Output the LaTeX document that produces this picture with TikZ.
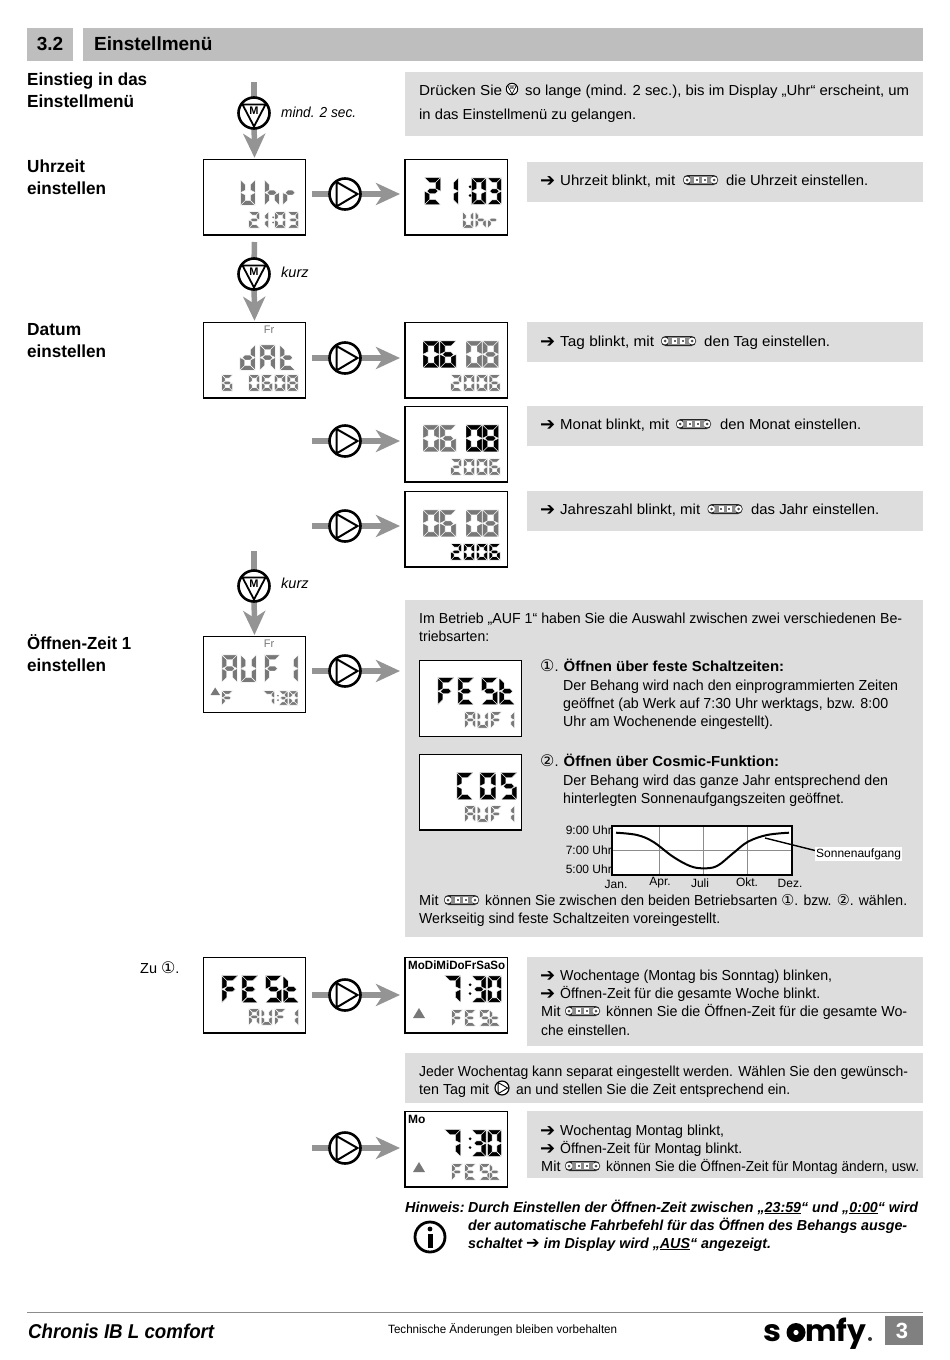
\documentclass[tikz,border=0pt]{standalone}
\usepackage{fontspec}
\setmainfont{Liberation Sans}
\newfontfamily\dv{DejaVu Sans}
\newfontfamily\pop{Poppins}
\usetikzlibrary{arrows.meta,calc}
\definecolor{panel}{gray}{.865}
\definecolor{head}{gray}{.745}
\definecolor{lcdg}{gray}{.47}
\definecolor{flow}{gray}{.58}
\newcount\tc
\newcommand\fs[1]{\fontsize{#1}{#1}\selectfont}
% text squeezed horizontally to a given width
\newcommand\fitw[2]{\setbox0\hbox{#2}\pgfmathsetmacro\sfk{#1/\the\wd0}\scalebox{\sfk}[1]{\box0}}
% style, right end (or empty), x, baseline y, text
\newcommand\TF[5]{\global\advance\tc by 1
  \ifx\relax#2\relax\node[#1] (t\the\tc) at (#3,#4) {#5};\else
  \pgfmathsetmacro\tww{#2-#3}\node[#1] (t\the\tc) at (#3,#4) {\fitw{\tww}{#5}};\fi}
\newcommand\T[4][]{\TF{txt}{#1}{#2}{#3}{#4}}
\newcommand\ar{{\dv\fontsize{18}{18}\selectfont\char"2794}}
\newcommand\cn[2][15]{{\dv\fontsize{#1}{#1}\selectfont\char\numexpr"2460+#2-1\relax}}
% seven-segment glyphs
\def\sA{\filldraw (-\Tt,-\Tt)--({\W+\Tt},-\Tt)--({\W-\Tt},\Tt)--(\Tt,\Tt)--cycle;}
\def\sD{\filldraw (-\Tt,{\H+\Tt})--({\W+\Tt},{\H+\Tt})--({\W-\Tt},{\H-\Tt})--(\Tt,{\H-\Tt})--cycle;}
\def\sF{\filldraw (-\Tt,-\Tt)--(\Tt,\Tt)--(\Tt,{\M-\Tt})--(-\Tt,\M)--cycle;}
\def\sE{\filldraw (-\Tt,{\H+\Tt})--(\Tt,{\H-\Tt})--(\Tt,{\M+\Tt})--(-\Tt,\M)--cycle;}
\def\sB{\filldraw ({\W+\Tt},-\Tt)--({\W-\Tt},\Tt)--({\W-\Tt},{\M-\Tt})--({\W+\Tt},\M)--cycle;}
\def\sC{\filldraw ({\W+\Tt},{\H+\Tt})--({\W-\Tt},{\H-\Tt})--({\W-\Tt},{\M+\Tt})--({\W+\Tt},\M)--cycle;}
\def\sG{\filldraw (0,\M)--(\Tt,{\M-\Tt})--({\W-\Tt},{\M-\Tt})--(\W,\M)--({\W-\Tt},{\M+\Tt})--(\Tt,{\M+\Tt})--cycle;}
\expandafter\def\csname lcd@0\endcsname{\sA\sB\sC\sD\sE\sF}
\expandafter\def\csname lcd@1\endcsname{\sB\sC}
\expandafter\def\csname lcd@2\endcsname{\sA\sB\sG\sE\sD}
\expandafter\def\csname lcd@3\endcsname{\sA\sB\sG\sC\sD}
\expandafter\def\csname lcd@6\endcsname{\sA\sF\sG\sE\sC\sD}
\expandafter\def\csname lcd@7\endcsname{\sA\sB\sC}
\expandafter\def\csname lcd@8\endcsname{\sA\sB\sC\sD\sE\sF\sG}
\expandafter\def\csname lcd@S\endcsname{\sA\sF\sG\sC\sD}
\expandafter\def\csname lcd@O\endcsname{\sA\sB\sC\sD\sE\sF}
\expandafter\def\csname lcd@A\endcsname{\sA\sB\sC\sE\sF\sG}
\expandafter\def\csname lcd@C\endcsname{\sA\sF\sE\sD}
\expandafter\def\csname lcd@E\endcsname{\sA\sF\sG\sE\sD}
\expandafter\def\csname lcd@F\endcsname{\sA\sF\sG\sE}
\expandafter\def\csname lcd@U\endcsname{\sF\sE\sD\sC\sB}
\expandafter\def\csname lcd@d\endcsname{\sB\sC\sD\sE\sG}
\expandafter\def\csname lcd@h\endcsname{\sF\sE\sG\sC}
\expandafter\def\csname lcd@r\endcsname{\sE\sG}
\expandafter\def\csname lcd@t\endcsname{\sF\sE\sG\sD}
\expandafter\def\csname lcd@:\endcsname{\fill[draw=none] ({-\W*.42},{\H*.3}) circle[radius={\Tt*.62}]; \fill[draw=none] ({-\W*.42},{\H*.7}) circle[radius={\Tt*.62}];}
\def\lcdwalk#1{\ifx#1\relax\else\lcdput{#1}\expandafter\lcdwalk\fi}
\def\lcdput#1{%
  \begin{scope}[shift={(\lx,\ly)},draw=white,line width=.4pt,fill=\lc,line join=miter]
  \csname lcd@#1\endcsname
  \end{scope}%
  \if:#1\else\pgfmathsetmacro\lx{\lx+\lp}\fi}
% x, ytop, w, h, pitch, half stroke, colour, string
\newcommand\lcd[8]{\begingroup\def\lx{#1}\def\ly{#2}\def\W{#3}\def\H{#4}\def\lp{#5}\def\Tt{#6}\def\lc{#7}\pgfmathsetmacro\M{#4/2}\lcdwalk#8\relax\endgroup}
\newcommand\LB[5]{\lcd{#1}{#2}{11}{22}{#5}{2.5}{#3}{#4}}% big: x,y,col,str,pitch
\newcommand\LN[5]{\lcd{#1}{#2}{9.5}{22}{#5}{2.4}{#3}{#4}}% big narrow
\newcommand\LS[5]{\lcd{#1}{#2}{7.6}{13}{#5}{1.65}{#3}{#4}}% small
\newcommand\rocker[2]{\begin{scope}[shift={(#1,#2)}]
  \fill[black!85,rounded corners=4.5] (-17.5,-5) rectangle (17.5,5);
  \fill[black!45] (-11,-3.6) rectangle (11,3.6);
  \fill[white] (-13.5,0) circle[radius=3.4]; \fill[white] (13.5,0) circle[radius=3.4];
  \fill[black!70] (-13.5,0) circle[radius=1.5]; \fill[black!70] (13.5,0) circle[radius=1.5];
  \fill[white] (-6.5,-2.8) rectangle (-1.5,2.8); \fill[white] (1.5,-2.8) rectangle (6.5,2.8);
  \fill[black!60] (-5,-1.2) rectangle (-3,1.2); \fill[black!60] (3,-1.2) rectangle (5,1.2);
\end{scope}}
\newcommand\mbtn[4]{\begin{scope}[shift={(#2,#3)},scale=#4,transform shape]
  \node[btn,line width=#4*2.6pt,minimum size=31pt] (#1) at (0,0) {};
  \draw[line width=#4*1.8pt,line join=round] (-11.5,-8.5)--(11.5,-8.5)--(0,13.5)--cycle;
  \node[inner sep=0,font=\bfseries\fontsize{11}{11}\selectfont] (#1M) at (0,-2) {M};
\end{scope}}
\newcommand\pbtn[4]{\begin{scope}[shift={(#2,#3)},scale=#4,transform shape]
  \node[btn,line width=#4*2.6pt,minimum size=31pt] (#1) at (0,0) {};
  \draw[line width=#4*2pt,line join=miter] (-8.5,-12)--(-8.5,12.5)--(12.5,0)--cycle;
\end{scope}}
\tikzset{
  x=1pt,y=-1pt,
  txt/.style={anchor=base west,inner sep=0pt,font=\fs{14.5}},
  ital/.style={anchor=base west,inner sep=0pt,font=\itshape\fs{14.5}},
  bold/.style={anchor=base west,inner sep=0pt,font=\bfseries\fs{14.5}},
  lab/.style={anchor=base west,inner sep=0pt,font=\bfseries\fs{17.5}},
  hw/.style={anchor=base west,inner sep=0pt,font=\bfseries\itshape\fs{14.5}},
  disp/.style={draw=black,line width=1.2pt,fill=white,minimum width=102.4pt,minimum height=75.7pt,inner sep=0pt,outer sep=0pt,anchor=north west},
  btn/.style={circle,draw=black,fill=white,inner sep=0pt},
  fline/.style={draw=flow,line width=5.5pt},
  farrow/.style={draw=flow,line width=5.5pt,-{Stealth[length=24pt,width=22pt,inset=7pt]}},
}
\begin{document}
\begin{tikzpicture}
\useasboundingbox (0,0) rectangle (950,1360);
\fill[white] (0,0) rectangle (950,1360);
% header
\fill[head] (27,28) rectangle (73,61);
\fill[head] (83,28) rectangle (923,61);
\node[anchor=base,inner sep=0,font=\bfseries\fs{19}] (sec) at (50,50) {3.2};
\node[anchor=base west,inner sep=0,font=\bfseries\fs{19}] (title) at (94,50) {Einstellmenü};
% panels
\foreach \a/\b/\c/\d in {405/72/923/136,527/162/923/202,527/322/923/362,527/406/923/446,527/491/923/531,405/600/923/937,527/957/923/1046,405/1053/923/1103,527/1111/923/1178}
  \fill[panel] (\a,\b) rectangle (\c,\d);
% left labels
\TF{lab}{147}{27}{85}{Einstieg in das}
\TF{lab}{134}{27}{107}{Einstellmenü}
\TF{lab}{85}{27}{172}{Uhrzeit}
\TF{lab}{106}{27}{194}{einstellen}
\TF{lab}{81}{27}{335}{Datum}
\TF{lab}{106}{27}{357}{einstellen}
\TF{lab}{131}{27}{649}{Öffnen-Zeit 1}
\TF{lab}{106}{27}{671}{einstellen}
% displays
\node[disp] (dUhr) at (203.3,159.3) {};
\node[disp] (dUhrR) at (405,159.3) {};
\node[disp] (dDat) at (203.3,322.3) {};
\node[disp] (dT) at (405,322.3) {};
\node[disp] (dM) at (405,406.3) {};
\node[disp] (dJ) at (405,491.3) {};
\node[disp] (dAuf) at (203.3,636.5) {};
\node[disp] (dFest) at (419.3,660.5) {};
\node[disp] (dCos) at (419.3,754.3) {};
\node[disp] (dF2) at (203.3,957.3) {};
\node[disp] (dW) at (405,957.3) {};
\node[disp] (dMo) at (405,1111.3) {};
% flow free ends
\coordinate (top) at (254,82);
\coordinate (c3) at (254,551);
\coordinate (hM) at (312,441);
\coordinate (hJ) at (312,526);
\coordinate (hMo) at (312,1148);
% flow lines
\draw[fline] (top) -- (254,113);
\draw[fline,shorten <=7pt] (dUhr.south) -- (254,274);
\draw[fline] (c3) -- (254,586);
\draw[farrow] (254,113) -- ($(dUhr.north)+(0,-1.5)$);
\draw[farrow] (254,274) -- ($(dDat.north)+(0,-1.5)$);
\draw[farrow] (254,586) -- ($(dAuf.north)+(0,-1.5)$);
\foreach \s/\e/\y in {dUhr/dUhrR/194,dDat/dT/358,dAuf/dFest/671,dF2/dW/995}{
  \draw[fline] ($(\s.east |- 0,\y)+(6.5,0)$) -- (345,\y);
}
\draw[fline] (hM) -- (345,441); \draw[fline] (hJ) -- (345,526); \draw[fline] (hMo) -- (345,1148);
\foreach \y in {194,358,441,526,671,995,1148}
  \draw[farrow] (345,\y) -- (400,\y);
\mbtn{m1}{254}{113}{1}
\mbtn{m2}{254}{274}{1}
\mbtn{m3}{254}{586}{1}
\pbtn{p1}{345}{194}{1}
\pbtn{p2}{345}{358}{1}
\pbtn{p3}{345}{441}{1}
\pbtn{p4}{345}{526}{1}
\pbtn{p5}{345}{671}{1}
\pbtn{p6}{345}{995}{1}
\pbtn{p7}{345}{1148}{1}
\TF{ital}{356}{281}{117}{mind. 2 sec.}
\TF{ital}{}{281}{277}{kurz}
\TF{ital}{}{281}{588}{kurz}
% LCD contents
\lcd{243}{182.3}{9.8}{20.5}{21}{2.4}{lcdg}{U}\lcd{267}{182.3}{9.8}{20.5}{21}{2.4}{lcdg}{h}\lcd{285.2}{182.3}{9.8}{20.5}{21}{2.4}{lcdg}{r}
\LS{250.4}{213.4}{lcdg}{2}{13}\LS{259}{213.4}{lcdg}{1}{13}\LS{276.4}{213.4}{lcdg}{:03}{13}
\LB{427}{180.2}{black}{2}{16}\LN{446.4}{180.2}{black}{1}{16}\LN{474.1}{180.2}{black}{:03}{15.6}
\LS{464.4}{213.4}{lcdg}{Uhr}{12.5}
\node[inner sep=0,text=lcdg,font=\fs{11}] (f1) at (269,329.5) {Fr};
\lcd{242.3}{347.3}{10.5}{20.5}{20}{2.4}{lcdg}{dAt}
\LS{223.4}{376.4}{lcdg}{6}{13}\LS{250.4}{376.4}{lcdg}{0608}{12.8}
\LB{425.5}{343.3}{black}{06}{17}\LB{468.5}{343.3}{lcdg}{08}{16.5}
\LS{452.4}{376.4}{lcdg}{2006}{12.8}
\LB{425.5}{427.3}{lcdg}{06}{17}\LB{468.5}{427.3}{black}{08}{16.5}
\LS{452.4}{460.4}{lcdg}{2006}{12.8}
\LB{425.5}{512.3}{lcdg}{06}{17}\LB{468.5}{512.3}{lcdg}{08}{16.5}
\LS{452.4}{545.4}{black}{2006}{12.8}
\node[inner sep=0,text=lcdg,font=\fs{11}] (f2) at (269,644) {Fr};
\lcd{224.3}{657.3}{10.5}{22.5}{19}{2.4}{lcdg}{AU}\lcd{267}{657.3}{10.5}{22.5}{19}{2.4}{lcdg}{F}\lcd{285.2}{657.3}{10.5}{22.5}{19}{2.4}{lcdg}{1}
\fill[lcdg] (210.5,695)--(220,695)--(215.2,687.5)--cycle;
\lcd{223.4}{692.4}{7.6}{11}{13}{1.65}{lcdg}{F}
\lcd{265}{692.4}{8}{11}{13}{1.65}{lcdg}{7}\lcd{280.4}{692.4}{5.8}{11}{10}{1.6}{lcdg}{:30}
% FESt big
\LB{440.3}{680.2}{black}{FE}{20}\LB{484}{680.2}{black}{St}{17.7}
\LS{466.4}{713.4}{lcdg}{AU}{12.5}\LS{492.4}{713.4}{lcdg}{F}{13}\LS{505}{713.4}{lcdg}{1}{13}
\LB{459.3}{775.2}{black}{C}{22}\LB{482.3}{775.2}{black}{OS}{21}
\LS{466.4}{807.4}{lcdg}{AU}{12.5}\LS{492.4}{807.4}{lcdg}{F}{13}\LS{505}{807.4}{lcdg}{1}{13}
\LB{224.3}{978.2}{black}{FE}{20}\LB{268}{978.2}{black}{St}{17.7}
\LS{250.4}{1010.4}{lcdg}{AU}{12.5}\LS{276.4}{1010.4}{lcdg}{F}{13}\LS{289}{1010.4}{lcdg}{1}{13}
\TF{bold,font=\bfseries\fs{12}}{505}{408}{969}{MoDiMiDoFrSaSo}
\LB{447.2}{978.2}{black}{7}{16}\LN{474.1}{978.2}{black}{:30}{15.6}
\fill[lcdg] (413,1018)--(425,1018)--(419,1008)--cycle;
\LS{453.4}{1011.4}{lcdg}{FE}{13}\LS{481.2}{1011.4}{lcdg}{St}{9.8}
\TF{bold,font=\bfseries\fs{12}}{}{408}{1123}{Mo}
\LB{447.2}{1132.2}{black}{7}{16}\LN{474.1}{1132.2}{black}{:30}{15.6}
\fill[lcdg] (413,1172)--(425,1172)--(419,1162)--cycle;
\LS{453.4}{1165.4}{lcdg}{FE}{13}\LS{481.2}{1165.4}{lcdg}{St}{9.8}
% panel texts
\T[502]{419}{95}{Drücken Sie}
\mbtn{mi}{512}{89}{.37}
\T[909]{525}{95}{so lange (mind. 2 sec.), bis im Display „Uhr“ erscheint, um}
\T[636]{419}{119}{in das Einstellmenü zu gelangen.}
\T{540}{186}{\ar} \T[675]{560}{185}{Uhrzeit blinkt, mit} \rocker{700.5}{180} \T[868]{726}{185}{die Uhrzeit einstellen.}
\T{540}{347}{\ar} \T[654]{560}{346}{Tag blinkt, mit} \rocker{678.5}{341} \T[830]{704}{346}{den Tag einstellen.}
\T{540}{430}{\ar} \T[669]{560}{429}{Monat blinkt, mit} \rocker{693.5}{424} \T[861]{720}{429}{den Monat einstellen.}
\T{540}{515}{\ar} \T[700]{560}{514}{Jahreszahl blinkt, mit} \rocker{725}{509} \T[879]{751}{514}{das Jahr einstellen.}
\T[902]{419}{623}{Im Betrieb „AUF 1“ haben Sie die Auswahl zwischen zwei verschiedenen Be-}
\T[489]{419}{641}{triebsarten:}
\T{540}{671}{\cn[16]{1}.} \TF{bold}{784}{563.5}{671}{Öffnen über feste Schaltzeiten:}
\T[898]{563}{690}{Der Behang wird nach den einprogrammierten Zeiten}
\T[888]{563}{708}{geöffnet (ab Werk auf 7:30 Uhr werktags, bzw. 8:00}
\T[773]{563}{726}{Uhr am Wochenende eingestellt).}
\T{540}{766}{\cn[16]{2}.} \TF{bold}{779}{563.5}{766}{Öffnen über Cosmic-Funktion:}
\T[888]{563}{785}{Der Behang wird das ganze Jahr entsprechend den}
\T[844]{563}{803}{hinterlegten Sonnenaufgangszeiten geöffnet.}
\T{419}{905}{Mit} \rocker{461.5}{900}
\T[907]{485}{905}{können Sie zwischen den beiden Betriebsarten \cn{1}. bzw. \cn{2}. wählen.}
\T[720]{419}{923}{Werkseitig sind feste Schaltzeiten voreingestellt.}
\T{140}{973}{Zu \cn[16]{1}.}
\T{540}{981}{\ar} \T[832]{560}{980}{Wochentage (Montag bis Sonntag) blinken,}
\T{540}{999}{\ar} \T[820]{560}{998}{Öffnen-Zeit für die gesamte Woche blinkt.}
\T{541}{1016}{Mit} \rocker{582.5}{1011} \T[907]{606}{1016}{können Sie die Öffnen-Zeit für die gesamte Wo-}
\T[630]{541}{1035}{che einstellen.}
\T[908]{419}{1076}{Jeder Wochentag kann separat eingestellt werden. Wählen Sie den gewünsch-}
\T[489]{419}{1094}{ten Tag mit} \pbtn{pi}{502}{1088}{.45} \T[790]{516}{1094}{an und stellen Sie die Zeit entsprechend ein.}
\T{540}{1136}{\ar} \T[724]{560}{1135}{Wochentag Montag blinkt,}
\T{540}{1154}{\ar} \T[742]{560}{1153}{Öffnen-Zeit für Montag blinkt.}
\T{541}{1171}{Mit} \rocker{582.5}{1166} \T[919]{606}{1171}{können Sie die Öffnen-Zeit für Montag ändern, usw.}
% chart
\fill[white] (612,826) rectangle (792,875);
\foreach \x in {659,703,747} \draw[black!45,line width=.8pt] (\x,827)--(\x,874);
\draw[black!45,line width=.8pt] (613,850)--(791,850);
\draw[line width=2pt,line join=round] plot[smooth,tension=.6] coordinates {(616,832.7)(637,835)(653,841.7)(673,856.7)(690,866)(703,868.3)(717,866)(733,853.3)(748,841.7)(767,835)(789,832.7)};
\draw[line width=2pt] (612,826) rectangle (792,875);
\draw[line width=1.4pt] (765,838)--(817,851);
\node[fill=white,inner sep=1.5pt,font=\fs{12},anchor=west] (sun) at (814.5,854) {Sonnenaufgang};
\foreach \t/\y in {9:00 Uhr/830,7:00 Uhr/850,5:00 Uhr/869}
  \node[inner sep=0,font=\fs{12},anchor=east] (ax\y) at (612,\y) {\t};
\foreach \t/\x/\y in {Jan./616/884,Apr./660/883,Juli/700/883,Okt./747/882,Dez./790/883}
  \node[inner sep=0,font=\fs{12}] (mon\x) at (\x,\y) {\t};
% Hinweis
\TF{hw}{}{405}{1212}{Hinweis:}
\TF{hw}{918}{468}{1212}{Durch Einstellen der Öffnen-Zeit zwischen „\underline{23:59}“ und „\underline{0:00}“ wird}
\TF{hw}{907}{468}{1230}{der automatische Fahrbefehl für das Öffnen des Behangs ausge-}
\TF{hw}{771}{468}{1248}{schaltet {\dv\fontsize{16.5}{16.5}\selectfont\char"2794} im Display wird „\underline{AUS}“ angezeigt.}
\node[circle,draw=black,line width=2.8pt,minimum size=30pt,inner sep=0] (info) at (430,1237) {};
\fill (430,1229) circle[radius=2.4];
\fill (427.5,1233.5) rectangle (432.5,1248);
% footer
\draw[black!45,line width=1.4pt] (27,1312.5)--(923,1312.5);
\TF{hw,font=\bfseries\itshape\fs{20}}{214}{28}{1338}{Chronis IB L comfort}
\TF{txt,font=\fs{12}}{617}{388}{1333}{Technische Änderungen bleiben vorbehalten}
\TF{txt,font=\pop\bfseries\fs{30}}{781}{763}{1341}{s}
\TF{txt,font=\pop\bfseries\fs{30}}{803}{788}{1341}{o}
\TF{txt,font=\pop\bfseries\fs{30}}{866}{805}{1341}{mfy}
\fill (796,1332.5) circle[radius=9.5];
\fill[white] (796,1332.5) circle[radius=2.6];
\fill[black!80] (870,1339) circle[radius=2];
\fill[black!50] (885,1316) rectangle (923,1345);
\node[inner sep=0,text=white,font=\bfseries\fs{22}] (pg) at (902,1331) {3};
\end{tikzpicture}
\end{document}
